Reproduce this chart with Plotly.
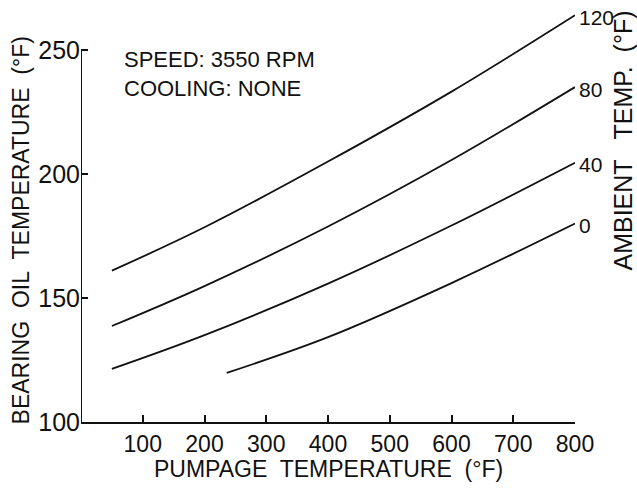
import plotly.graph_objects as go

# Data
ambient_labels = ["120", "80", "40", "0"]
x_120 = [50, 200, 400, 600, 800]
y_120 = [161, 178.5, 205, 233.2, 264]
x_80 = [50, 200, 400, 600, 800]
y_80 = [138.7, 154.8, 178.8, 205.6, 235]
x_40 = [50, 200, 400, 600, 800]
y_40 = [121.4, 135, 155.8, 179.2, 204.5]
x_0 = [236, 400, 600, 800]
y_0 = [119.8, 134.2, 156, 180]

x_ticks = [100, 200, 300, 400, 500, 600, 700, 800]
y_ticks = [100, 150, 200, 250]

FONT = "Liberation Sans, Arial, sans-serif"
INK = "#111111"

series = [(x_120, y_120), (x_80, y_80), (x_40, y_40), (x_0, y_0)]

fig = go.Figure()
for (xs, ys), lab in zip(series, ambient_labels):
    fig.add_trace(go.Scatter(x=xs, y=ys, mode="lines",
                             line=dict(color=INK, width=1.8, shape="spline", smoothing=1.0),
                             showlegend=False, hoverinfo="skip", cliponaxis=False))
    fig.add_annotation(x=xs[-1], y=ys[-1], text=lab, showarrow=False,
                       xanchor="left", yanchor="middle", xshift=2, yshift=-2,
                       font=dict(family=FONT, size=21, color=INK))

fig.update_xaxes(range=[0, 800], tickvals=x_ticks, ticktext=[str(v) for v in x_ticks],
                 ticks="inside", ticklen=7, tickwidth=1.5, tickcolor=INK,
                 showline=True, linecolor=INK, linewidth=2,
                 showgrid=False, zeroline=False,
                 tickfont=dict(family=FONT, size=23, color=INK))
fig.update_yaxes(range=[100, 266.1], tickvals=y_ticks, ticktext=[str(v) for v in y_ticks],
                 ticks="inside", ticklen=7, tickwidth=1.5, tickcolor=INK,
                 showline=False, showgrid=False, zeroline=False,
                 tickfont=dict(family=FONT, size=25, color=INK))

# y axis line stops at 250
fig.add_shape(type="line", xref="x", yref="y", x0=0, x1=0, y0=100, y1=250,
              line=dict(color=INK, width=2))

fig.add_annotation(xref="paper", yref="paper", x=0.5, y=-0.113,
                   text="PUMPAGE  TEMPERATURE  (°F)", showarrow=False,
                   xanchor="center", yanchor="middle",
                   font=dict(family=FONT, size=23, color=INK))
fig.add_annotation(xref="paper", yref="paper", x=-0.1215, y=0.465,
                   text="BEARING  OIL  TEMPERATURE  (°F)", showarrow=False,
                   textangle=-90, xanchor="center", yanchor="middle",
                   font=dict(family=FONT, size=23, color=INK))
fig.add_annotation(xref="paper", yref="paper", x=1.097, y=0.683,
                   text="AMBIENT   TEMP.  (°F)", showarrow=False,
                   textangle=-90, xanchor="center", yanchor="middle",
                   font=dict(family=FONT, size=25, color=INK))
fig.add_annotation(xref="paper", yref="paper", x=0.082, y=0.915,
                   text="SPEED: 3550 RPM<br>COOLING: NONE", showarrow=False,
                   xanchor="left", yanchor="top", align="left",
                   font=dict(family=FONT, size=22, color=INK))

fig.update_layout(width=637, height=490,
                  margin=dict(l=81, r=62, t=10, b=68),
                  paper_bgcolor="white", plot_bgcolor="white")

# remove the default page margin so the figure fills the window exactly
fig.write_html("out.html", config={"displayModeBar": False},
               post_script="document.body.style.margin='0';document.body.style.overflow='hidden';")
